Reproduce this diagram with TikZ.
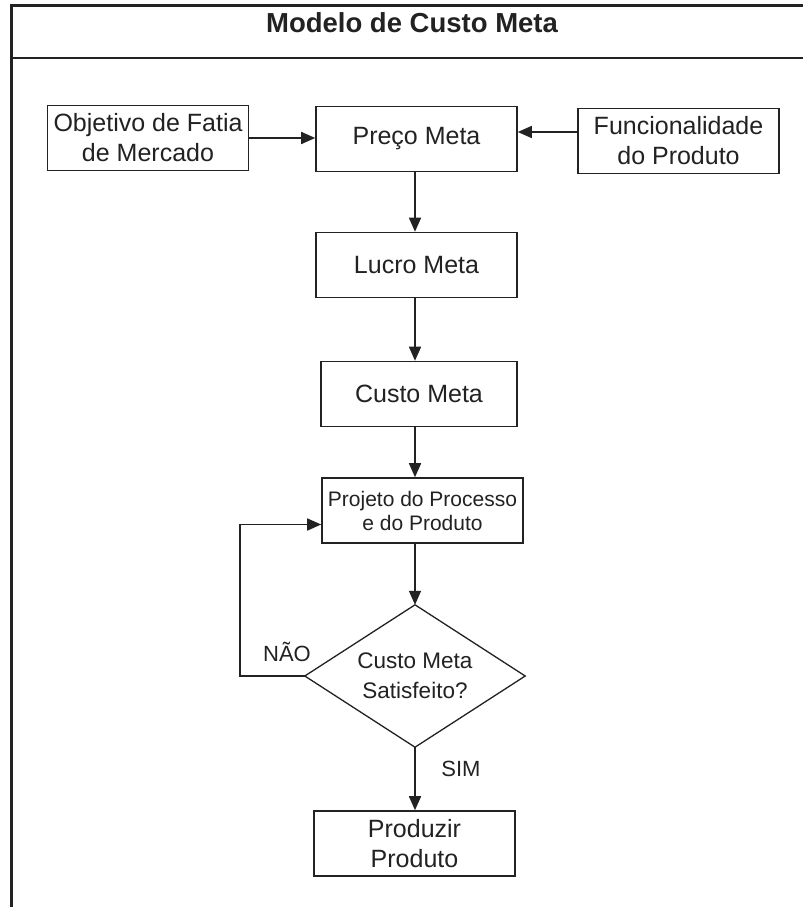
\documentclass[tikz,border=0pt]{standalone}
\usepackage{fontspec}
\setmainfont{Liberation Sans}
\usetikzlibrary{arrows.meta}
\definecolor{ink}{HTML}{222222}
\begin{document}
\begin{tikzpicture}[x=1pt,y=-1pt,
  box/.style={draw=ink, line width=1.6pt, minimum width=201pt, minimum height=65pt,
    inner sep=0pt, align=center, text=ink, font=\fontsize{25}{30}\selectfont},
  smallbox/.style={box, font=\fontsize{21}{24}\selectfont},
  decision/.style={minimum width=220pt, minimum height=142pt, inner sep=0pt,
    align=center, text=ink, font=\fontsize{22.5}{30}\selectfont},
  flow/.style={draw=ink, line width=1.6pt, -{Triangle[length=14pt,width=12pt]}},
  tag/.style={text=ink, font=\fontsize{22}{24}\selectfont, inner sep=0pt}]
\useasboundingbox (0,0) rectangle (803,907);
\fill[white] (0,0) rectangle (803,907);

% frame and title bar
\draw[ink, line width=3pt] (11,907) -- (11,6) -- (803,6);
\draw[ink, line width=2pt] (11,58) -- (803,58);
\node[text=ink, font=\bfseries\fontsize{27.5}{30}\selectfont, inner sep=0pt] (title) at (412,23) {Modelo de Custo Meta};

% boxes
\node[box] (obj)   at (148,138)   {Objetivo de Fatia\\de Mercado};
\node[box] (preco) at (416.5,139) {Preço Meta};
\node[box] (func)  at (678.5,141) {Funcionalidade\\do Produto};
\node[box] (lucro) at (416.5,265) {Lucro Meta};
\node[box, minimum width=196pt] (custo) at (419,394) {Custo Meta};
\node[smallbox] (proj) at (422.5,510.5) {Projeto do Processo\\e do Produto};
\node[decision] (dia) at (415,676) {Custo Meta\\Satisfeito?};
\draw[ink, line width=1.3pt] (dia.north) -- (dia.east) -- (dia.south) -- (dia.west) -- cycle;
\node[box] (prod) at (414.5,843.5) {Produzir\\Produto};

% connectors
\draw[flow] (obj.east) -- (obj.east -| preco.west);
\draw[flow] ([yshift=9pt]func.west) -- ([yshift=9pt]func.west -| preco.east);
\draw[flow] (preco.south -| dia.north) -- (lucro.north -| dia.north);
\draw[flow] (lucro.south -| dia.north) -- (custo.north -| dia.north);
\draw[flow] (custo.south -| dia.north) -- (proj.north -| dia.north);
\draw[flow] (proj.south -| dia.north) -- (dia.north);
\draw[flow] (dia.south) -- (prod.north -| dia.south);
\coordinate (loop) at ([xshift=-65pt]dia.west);
\draw[flow] (dia.west) -- (loop) |- ([yshift=-14pt]proj.west);

% branch labels
\node[tag] (nao) at (287,652) {NÃO};
\node[tag] (sim) at (461,769) {SIM};
\end{tikzpicture}
\end{document}
